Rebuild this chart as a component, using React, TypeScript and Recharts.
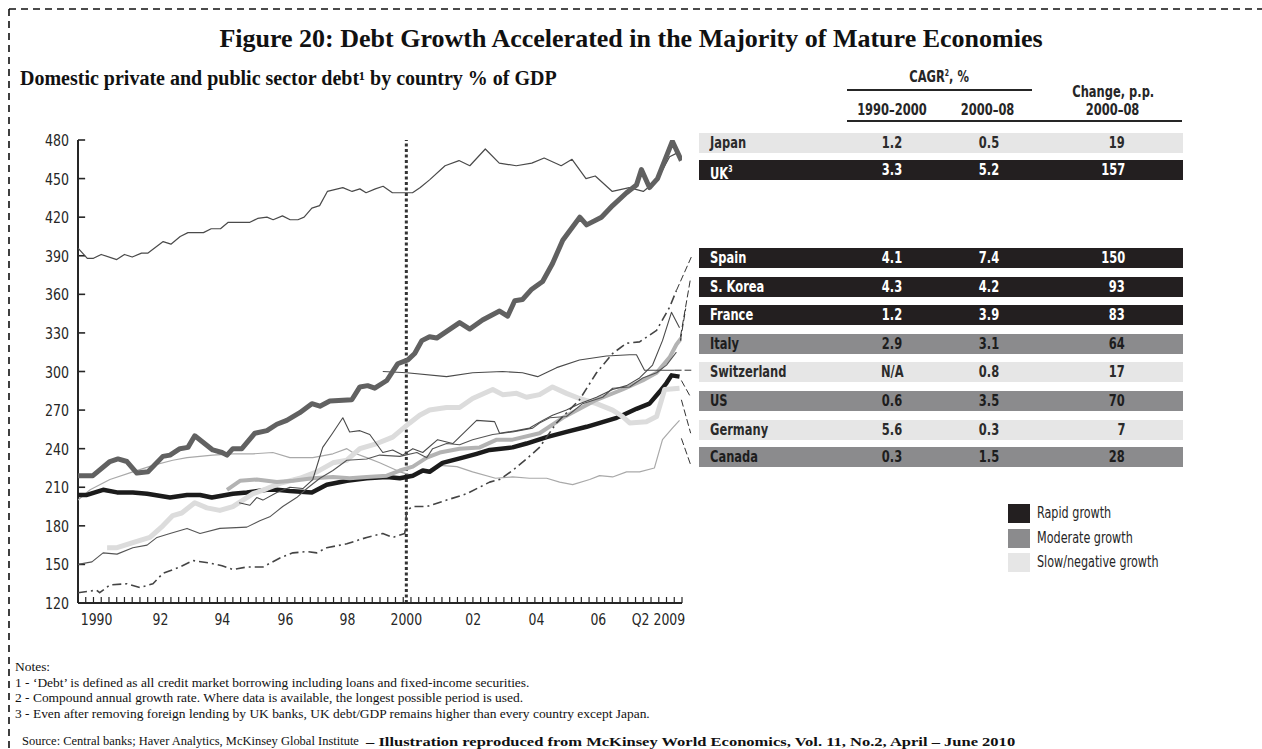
import React from 'react';
import { LineChart, Line, XAxis, YAxis, ReferenceLine } from 'recharts';

// debt, % of GDP, by quarter (decimal year, value)
const japan: [number, number][] = [
  [1990.0, 396], [1990.3, 388], [1990.5, 388], [1990.75, 391], [1991.25, 387], [1991.5, 391], [1991.75, 389],
  [1992.05, 392], [1992.25, 392], [1992.75, 401], [1993.0, 399], [1993.3, 405], [1993.55, 408], [1994.05, 408],
  [1994.3, 411], [1994.6, 411], [1994.85, 416], [1995.55, 416], [1995.8, 419], [1996.1, 420], [1996.3, 418],
  [1996.6, 421], [1996.85, 418], [1997.1, 418], [1997.3, 420], [1997.55, 427], [1997.8, 429], [1998.05, 440],
  [1998.55, 443], [1998.85, 440], [1999.1, 442], [1999.3, 439], [1999.6, 442], [1999.85, 444], [2000.15, 439],
  [2000.8, 439], [2001.05, 443], [2001.35, 449], [2001.85, 460], [2002.3, 464], [2002.65, 460], [2003.15, 473],
  [2003.6, 462], [2004.15, 460], [2004.65, 462], [2005.05, 466], [2005.6, 460], [2005.95, 465], [2006.4, 450],
  [2006.7, 452], [2007.25, 440], [2007.8, 443], [2008.25, 440], [2008.7, 449], [2009.1, 467], [2009.35, 470],
];

const uk: [number, number][] = [
  [1990.0, 219], [1990.48, 219], [1991.03, 230], [1991.29, 232], [1991.58, 230], [1991.9, 221], [1992.26, 222],
  [1992.74, 234], [1992.97, 235], [1993.29, 240], [1993.55, 241], [1993.77, 250], [1994.35, 239], [1994.65, 237],
  [1994.81, 235], [1995.0, 240], [1995.29, 240], [1995.71, 252], [1996.1, 254], [1996.42, 259], [1996.74, 262],
  [1997.16, 268], [1997.55, 275], [1997.81, 273], [1998.13, 277], [1998.84, 278], [1999.1, 288], [1999.35, 289],
  [1999.58, 287], [1999.97, 293], [2000.32, 306], [2000.65, 309], [2000.87, 314], [2001.1, 324], [2001.35, 327],
  [2001.58, 326], [2002.32, 338], [2002.65, 333], [2003.06, 340], [2003.61, 347], [2003.87, 343], [2004.1, 355],
  [2004.35, 356], [2004.65, 364], [2005.0, 370], [2005.32, 384], [2005.65, 402], [2006.2, 420], [2006.42, 414],
  [2006.9, 420], [2007.26, 429], [2007.71, 439], [2008.03, 445], [2008.19, 457], [2008.45, 443], [2008.71, 450],
  [2008.94, 464], [2009.19, 479], [2009.48, 464],
];

const spain: [number, number][] = [
  [1990.0, 128], [1990.6, 130], [1990.7, 128], [1991.03, 134], [1991.58, 135], [1992.0, 132], [1992.42, 135],
  [1992.74, 143], [1993.29, 148], [1993.71, 153], [1994.26, 151], [1994.65, 149], [1995.0, 146], [1995.45, 148],
  [1995.97, 148], [1996.52, 155], [1996.94, 159], [1997.39, 160], [1997.71, 159], [1998.03, 163], [1998.68, 166],
  [1999.32, 171], [1999.84, 174], [2000.16, 171], [2000.55, 174], [2000.61, 192], [2000.81, 195], [2001.26, 195],
  [2001.9, 200], [2002.55, 205], [2003.29, 214], [2003.61, 216], [2004.03, 223], [2004.48, 232], [2004.9, 241],
  [2005.45, 260], [2006.19, 278], [2006.74, 299], [2007.26, 314], [2007.71, 322], [2008.13, 323], [2008.68, 332],
  [2009.1, 350], [2009.32, 363],
];

const korea: [number, number][] = [
  [1995.2, 198], [1995.55, 196], [1995.77, 202], [1995.97, 200], [1996.42, 206], [1996.84, 210], [1997.26, 209],
  [1997.58, 216], [1997.9, 241], [1998.19, 251], [1998.55, 264], [1998.77, 253], [1999.1, 254], [1999.42, 251],
  [1999.84, 237], [2000.16, 239], [2000.48, 235], [2000.81, 240], [2001.13, 237], [2001.61, 247], [2002.1, 244],
  [2002.87, 262], [2003.45, 261], [2003.61, 252], [2004.16, 254], [2004.58, 256], [2005.0, 262], [2005.32, 266],
  [2005.77, 270], [2006.19, 275], [2006.74, 280], [2007.26, 286], [2007.71, 289], [2008.13, 295], [2008.55, 305],
  [2008.87, 324], [2009.16, 346], [2009.42, 334],
];

const france: [number, number][] = [
  [1990.0, 150], [1990.45, 152], [1990.81, 159], [1991.26, 158], [1991.77, 163], [1992.23, 165], [1992.55, 171],
  [1992.97, 174], [1993.52, 178], [1993.94, 174], [1994.58, 178], [1995.45, 179], [1995.87, 184], [1996.19, 187],
  [1996.61, 195], [1997.06, 202], [1997.39, 209], [1997.81, 217], [1998.23, 223], [1998.68, 231], [1999.32, 232],
  [1999.74, 235], [2000.39, 234], [2000.94, 237], [2001.26, 233], [2001.45, 240], [2001.9, 244], [2002.32, 243],
  [2002.74, 247], [2003.39, 251], [2004.03, 253], [2004.68, 256], [2004.9, 260], [2005.23, 264], [2005.77, 265],
  [2006.29, 275], [2006.94, 280], [2007.26, 287], [2007.81, 288], [2008.23, 295], [2008.68, 299], [2009.0, 305],
  [2009.32, 315],
];

const italy: [number, number][] = [
  [1994.81, 208], [1995.23, 215], [1995.77, 216], [1996.42, 214], [1996.94, 215], [1997.58, 217], [1998.23, 218],
  [1998.77, 217], [1999.32, 218], [1999.97, 219], [2000.39, 223], [2000.81, 226], [2001.26, 233], [2001.68, 237],
  [2002.32, 240], [2002.97, 241], [2003.52, 247], [2004.03, 247], [2004.9, 252], [2005.65, 264], [2006.74, 278],
  [2007.58, 286], [2008.23, 293], [2008.68, 299], [2009.1, 311], [2009.32, 321], [2009.48, 326],
];

const switzerland: [number, number][] = [
  [1999.84, 300], [2000.61, 299], [2001.9, 296], [2002.74, 299], [2003.71, 300], [2004.35, 299], [2004.84, 296],
  [2005.45, 303], [2006.19, 309], [2007.06, 312], [2007.81, 313], [2008.03, 313], [2008.29, 301], [2009.26, 301],
];

const us: [number, number][] = [
  [1990.0, 204], [1990.29, 204], [1990.81, 208], [1991.26, 206], [1991.77, 206], [1992.23, 205], [1992.97, 202],
  [1993.52, 204], [1993.94, 204], [1994.32, 202], [1995.0, 205], [1995.45, 206], [1996.1, 208], [1996.42, 208],
  [1996.84, 207], [1997.55, 206], [1998.03, 212], [1998.68, 215], [1999.32, 217], [1999.97, 218], [2000.39, 217],
  [2000.81, 219], [2001.13, 223], [2001.35, 222], [2001.77, 229], [2002.42, 233], [2002.87, 236], [2003.29, 239],
  [2004.03, 241], [2004.48, 244], [2005.13, 249], [2005.77, 253], [2006.42, 257], [2007.39, 264], [2007.58, 266],
  [2008.03, 271], [2008.45, 275], [2008.77, 284], [2009.0, 291], [2009.16, 297], [2009.42, 296],
];

const germany: [number, number][] = [
  [1990.94, 163], [1991.26, 163], [1991.77, 167], [1992.32, 171], [1992.74, 180], [1993.06, 188], [1993.35, 190],
  [1993.77, 198], [1994.16, 194], [1994.58, 192], [1995.0, 195], [1995.65, 205], [1996.1, 209], [1996.52, 213],
  [1997.16, 217], [1997.71, 222], [1998.23, 229], [1998.68, 231], [1999.1, 240], [1999.65, 244], [2000.16, 249],
  [2000.71, 260], [2001.03, 266], [2001.35, 270], [2001.9, 272], [2002.32, 272], [2002.74, 279], [2003.39, 286],
  [2003.71, 282], [2004.16, 283], [2004.48, 280], [2004.9, 282], [2005.32, 288], [2005.77, 283], [2006.19, 279],
  [2006.74, 275], [2007.26, 270], [2007.58, 265], [2007.81, 260], [2008.35, 261], [2008.68, 265], [2008.94, 286],
  [2009.42, 287],
];

const canada: [number, number][] = [
  [1990.0, 200], [1990.39, 208], [1991.03, 216], [1991.77, 222], [1992.42, 227], [1993.06, 231], [1993.52, 233],
  [1994.35, 235], [1995.0, 236], [1995.65, 236], [1996.29, 237], [1996.84, 233], [1997.58, 233], [1998.23, 236],
  [1998.68, 240], [1998.87, 237], [1999.32, 233], [1999.74, 229], [2000.39, 222], [2000.81, 219], [2001.2, 222],
  [2001.68, 227], [2002.23, 226], [2002.74, 222], [2003.48, 217], [2004.03, 218], [2004.58, 217], [2005.13, 217],
  [2005.55, 214], [2005.97, 212], [2006.52, 216], [2006.84, 219], [2007.26, 218], [2007.71, 222], [2008.13, 222],
  [2008.61, 225], [2008.87, 247], [2009.19, 256], [2009.42, 262],
];

// table on the right
const countries = ['Japan', 'UK', 'Spain', 'S. Korea', 'France', 'Italy', 'Switzerland', 'US', 'Germany', 'Canada'];
const cagr1990s = ['1.2', '3.3', '4.1', '4.3', '1.2', '2.9', 'N/A', '0.6', '5.6', '0.3'];
const cagr2000s = ['0.5', '5.2', '7.4', '4.2', '3.9', '3.1', '0.8', '3.5', '0.3', '1.5'];
const changePP = [19, 157, 150, 93, 83, 64, 17, 70, 7, 28];
const growth = ['slow', 'rapid', 'rapid', 'rapid', 'rapid', 'moderate', 'slow', 'moderate', 'slow', 'moderate'];

// leader lines from line ends to table rows: [t0, v0, t1, v1]
const leaders: [number, number, number, number][] = [
  [2009.32, 363, 2009.8, 389],
  [2009.45, 327, 2009.78, 373],
  [2009.45, 324, 2009.62, 349],
  [2009.26, 301, 2009.8, 301],
  [2009.48, 293, 2009.78, 280],
  [2009.48, 278, 2009.78, 252],
  [2009.48, 248, 2009.8, 226],
];

const yTicks = [120, 150, 180, 210, 240, 270, 300, 330, 360, 390, 420, 450, 480];
const xLabelAt = [1990.6, 1992.66, 1994.66, 1996.7, 1998.7, 2000.6, 2002.76, 2004.8, 2006.8, 2008.74];
const xLabels = ['1990', '92', '94', '96', '98', '2000', '02', '04', '06', 'Q2 2009'];
const quarterTicks = Array.from({ length: 79 }, (_, i) => 1990 + i * 0.25);

const COND = "'DejaVu Sans Condensed', 'Liberation Sans Narrow', sans-serif";
const SERIF = "'Liberation Serif', 'Times New Roman', serif";
const INK = '#262626';

const groupColor: Record<string, { bg: string; fg: string }> = {
  rapid: { bg: '#231f20', fg: '#ffffff' },
  moderate: { bg: '#8b8b8d', fg: '#1d1d1d' },
  slow: { bg: '#e6e6e6', fg: '#2b2b2b' },
};

const series = [
  { name: 'Canada', pts: canada, stroke: '#a9a9a9', width: 1.2 },
  { name: 'US', pts: us, stroke: '#1b1b1b', width: 4.5 },
  { name: 'Germany', pts: germany, stroke: '#dcdcdc', width: 5 },
  { name: 'Italy', pts: italy, stroke: '#b3b3b3', width: 4 },
  { name: 'France', pts: france, stroke: '#555555', width: 1.1 },
  { name: 'S. Korea', pts: korea, stroke: '#4a4a4a', width: 1.1 },
  { name: 'Switzerland', pts: switzerland, stroke: '#4a4a4a', width: 1.1 },
  { name: 'Spain', pts: spain, stroke: '#444444', width: 1.6, dash: '9 4 2 4' },
  { name: 'Japan', pts: japan, stroke: '#4a4a4a', width: 1.2 },
  { name: 'UK', pts: uk, stroke: '#616161', width: 5 },
];

const rowTop = [133, 160, 248, 277, 305, 334, 362, 391, 420, 447];

const YTick = ({ x, y, payload }: any) => (
  <text
    transform={`translate(${x - 1},${y + 6}) scale(0.85,1)`}
    textAnchor="end"
    fontFamily={COND}
    fontSize={16.5}
    fill={INK}
  >
    {payload.value}
  </text>
);

const XTick = ({ x, y, payload }: any) => {
  const i = xLabelAt.indexOf(payload.value);
  if (i >= 0) {
    return (
      <text
        transform={`translate(${x},${y + 22}) scale(0.84,1)`}
        textAnchor="middle"
        fontFamily={COND}
        fontSize={16.5}
        fill={INK}
      >
        {xLabels[i]}
      </text>
    );
  }
  return <line x1={x} x2={x} y1={y - 6} y2={y} stroke={INK} strokeWidth={1.2} />;
};

function DebtChart() {
  return (
    <LineChart width={700} height={640} margin={{ top: 140, right: 18, bottom: 5, left: 0 }}>
      <YAxis
        type="number"
        domain={[120, 480]}
        ticks={yTicks}
        interval={0}
        width={78}
        tickSize={8}
        tickMargin={0}
        tickLine={false}
        axisLine={false}
        tick={<YTick />}
        allowDataOverflow
      />
      <XAxis
        xAxisId="q"
        type="number"
        dataKey="t"
        domain={[1990, 2009.5]}
        ticks={[...quarterTicks, ...xLabelAt]}
        interval={0}
        height={32}
        tickSize={0}
        tickMargin={0}
        tickLine={false}
        axisLine={{ stroke: INK, strokeWidth: 2 }}
        tick={<XTick />}
        allowDataOverflow
      />
      <ReferenceLine xAxisId="q" x={1990} stroke={INK} strokeWidth={2} />
      {yTicks.map((v) => (
        <ReferenceLine
          key={`yt${v}`}
          xAxisId="q"
          segment={[{ x: 1990, y: v }, { x: 1990.23, y: v }]}
          stroke={INK}
          strokeWidth={1.6}
        />
      ))}
      <ReferenceLine xAxisId="q" x={2000.6} stroke="#333" strokeWidth={3} strokeDasharray="3 2.5" />
      {series.map((s) => (
        <Line
          key={s.name}
          xAxisId="q"
          name={s.name}
          data={s.pts.map(([t, v]) => ({ t, v }))}
          dataKey="v"
          type="linear"
          stroke={s.stroke}
          strokeWidth={s.width}
          strokeDasharray={s.dash}
          strokeLinejoin="round"
          dot={false}
          activeDot={false}
          isAnimationActive={false}
        />
      ))}
      {leaders.map(([t0, v0, t1, v1], i) => (
        <ReferenceLine
          key={i}
          xAxisId="q"
          segment={[{ x: t0, y: v0 }, { x: t1, y: v1 }]}
          ifOverflow="visible"
          stroke="#333"
          strokeWidth={1}
          strokeDasharray="7 3"
        />
      ))}
    </LineChart>
  );
}

// condensed-looking text: squeeze the glyphs horizontally
const Sq = ({ children, origin = 'left', k = 0.85 }: any) => (
  <span style={{ display: 'inline-block', transform: `scaleX(${k})`, transformOrigin: origin, whiteSpace: 'nowrap' }}>
    {children}
  </span>
);

function Table() {
  const cell = (left: number, width: number, align: 'left' | 'center' | 'right') => ({
    position: 'absolute' as const, left, width, textAlign: align, top: 0, lineHeight: '20px',
  });
  const head = (left: number, width: number, top: number) => ({
    position: 'absolute' as const, left, width, top, textAlign: 'center' as const, fontSize: 15, color: INK,
  });
  return (
    <div style={{ position: 'absolute', left: 0, top: 0, fontFamily: COND, fontWeight: 700 }}>
      <div style={head(847, 185, 68)}>
        <Sq origin="center">CAGR<sup style={{ fontSize: 8 }}>2</sup>, %</Sq>
      </div>
      <div style={{ position: 'absolute', left: 847, width: 185, top: 89, height: 1.5, background: INK }} />
      <div style={head(1040, 146, 83)}><Sq origin="center">Change, p.p.</Sq></div>
      <div style={head(842, 100, 101)}><Sq origin="center">1990–2000</Sq></div>
      <div style={head(938, 100, 101)}><Sq origin="center">2000–08</Sq></div>
      <div style={head(1063, 100, 101)}><Sq origin="center">2000–08</Sq></div>
      <div style={{ position: 'absolute', left: 847, width: 335, top: 120, height: 1.5, background: INK }} />
      {countries.map((c, i) => {
        const g = groupColor[growth[i]];
        return (
          <div
            key={c}
            style={{
              position: 'absolute', left: 699, top: rowTop[i], width: 484, height: 20,
              background: g.bg, color: g.fg, fontSize: 15,
            }}
          >
            <div style={cell(11, 150, 'left')}>
              <Sq origin="left">
                {c === 'UK' ? <>UK<sup style={{ fontSize: 8, verticalAlign: '7px' }}>3</sup></> : c}
              </Sq>
            </div>
            <div style={cell(153, 80, 'center')}><Sq origin="center">{cagr1990s[i]}</Sq></div>
            <div style={cell(250, 80, 'center')}><Sq origin="center">{cagr2000s[i]}</Sq></div>
            <div style={cell(326, 100, 'right')}><Sq origin="right">{changePP[i]}</Sq></div>
          </div>
        );
      })}
    </div>
  );
}

function LegendBox() {
  const items = [
    { key: 'rapid', label: 'Rapid growth' },
    { key: 'moderate', label: 'Moderate growth' },
    { key: 'slow', label: 'Slow/negative growth' },
  ];
  return (
    <div style={{ position: 'absolute', left: 1008, top: 504, fontFamily: COND, fontSize: 15, color: INK }}>
      {items.map((it, i) => (
        <div key={it.key} style={{ position: 'absolute', left: 0, top: i * 24.5, width: 200, height: 19 }}>
          <div style={{ position: 'absolute', left: 0, top: 0, width: 22, height: 19, background: groupColor[it.key].bg }} />
          <div style={{ position: 'absolute', left: 29, top: 0, lineHeight: '19px' }}>
            <Sq origin="left" k={0.83}>{it.label}</Sq>
          </div>
        </div>
      ))}
    </div>
  );
}

export default function App() {
  return (
    <div style={{ position: 'absolute', left: 0, top: 0, width: 1262, height: 749, background: '#fff', overflow: 'hidden' }}>
      <svg width={1262} height={749} style={{ position: 'absolute', left: 0, top: 0 }}>
        <line x1={9} y1={9} x2={1262} y2={9} stroke="#111" strokeWidth={1.6} strokeDasharray="7 5" />
        <line x1={9} y1={9} x2={9} y2={749} stroke="#111" strokeWidth={1.6} strokeDasharray="7 5" />
      </svg>
      <div
        style={{
          position: 'absolute', left: 0, width: 1262, top: 24, textAlign: 'center',
          fontFamily: SERIF, fontWeight: 700, fontSize: 26, color: '#111',
        }}
      >
        Figure 20: Debt Growth Accelerated in the Majority of Mature Economies
      </div>
      <div style={{ position: 'absolute', left: 20, top: 67, fontFamily: SERIF, fontWeight: 700, fontSize: 20, color: '#111' }}>
        Domestic private and public sector debt¹ by country % of GDP
      </div>
      <div style={{ position: 'absolute', left: 0, top: 0 }}>
        <DebtChart />
      </div>
      <Table />
      <LegendBox />
      <div style={{ position: 'absolute', left: 15, top: 660, fontFamily: SERIF, fontSize: 12, color: '#111', lineHeight: '15.5px' }}>
        {[
          'Notes:',
          '1 - ‘Debt’ is defined as all credit market borrowing including loans and fixed-income securities.',
          '2 - Compound annual growth rate. Where data is available, the longest possible period is used.',
          '3 - Even after removing foreign lending by UK banks, UK debt/GDP remains higher than every country except Japan.',
        ].map((t) => (
          <div key={t}><Sq origin="left" k={1.12}>{t}</Sq></div>
        ))}
      </div>
      <div style={{ position: 'absolute', left: 22, top: 734, fontFamily: SERIF, fontSize: 12, color: '#111' }}>
        <Sq origin="left" k={1.04}>Source: Central banks; Haver Analytics, McKinsey Global Institute</Sq>
      </div>
      <div style={{ position: 'absolute', left: 366, top: 734, fontFamily: SERIF, fontSize: 13, fontWeight: 700, color: '#111' }}>
        <Sq origin="left" k={1.27}>– Illustration reproduced from McKinsey World Economics, Vol. 11, No.2, April – June 2010</Sq>
      </div>
    </div>
  );
}
